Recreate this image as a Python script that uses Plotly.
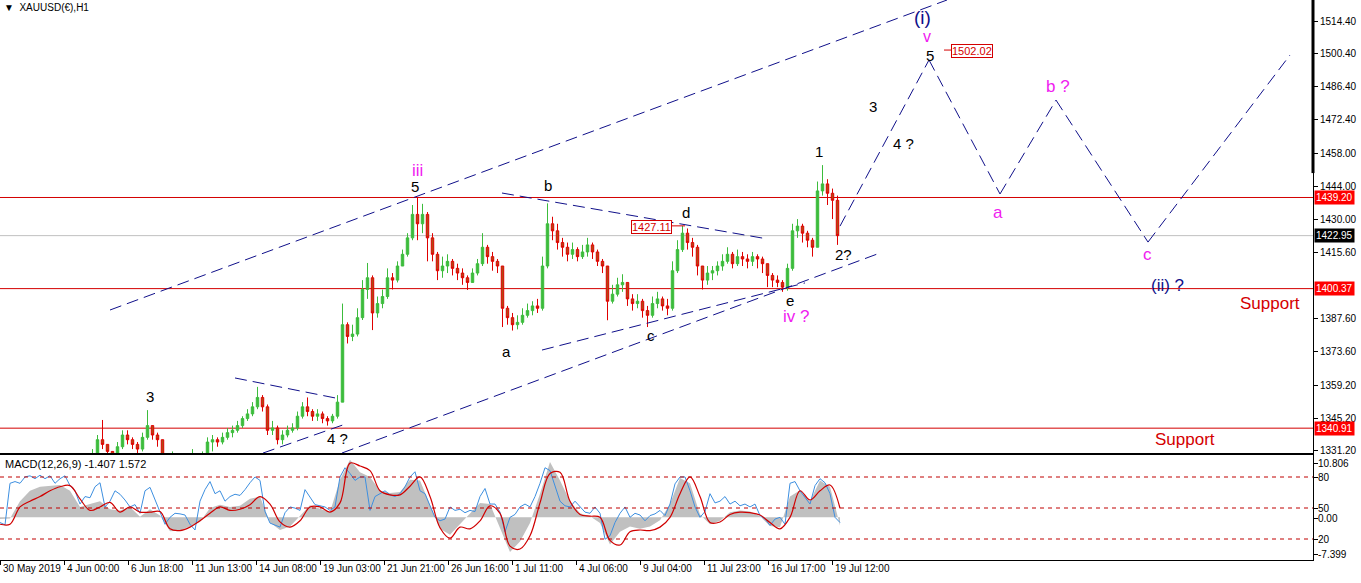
import plotly.graph_objects as go

# ---------------- DATA ----------------
# H1 candles, one entry per 5 bars
closes = [1312, 1314, 1316, 1318, 1319, 1321, 1322, 1320, 1321, 1323, 1324, 1322, 1323, 1325, 1326, 1325, 1327, 1328, 1330,
          1336, 1334, 1331, 1329, 1333, 1338, 1336, 1334, 1332, 1337, 1342, 1338, 1336, 1328,
          1327, 1329, 1328, 1326, 1328, 1330, 1327, 1329,
          1335, 1336, 1335, 1337, 1339, 1340, 1342, 1345, 1347, 1350, 1354, 1350, 1340, 1341, 1336, 1338, 1340, 1341,
          1346, 1350, 1348, 1346, 1347, 1345, 1344, 1346, 1352, 1385, 1380, 1381, 1388, 1400, 1405, 1390, 1394, 1397,
          1405, 1404, 1410, 1415, 1422, 1432, 1428, 1432, 1422, 1415, 1408, 1410, 1412, 1409, 1407, 1405, 1403, 1407,
          1411, 1418, 1414, 1412, 1410,
          1392, 1388, 1385, 1386, 1389, 1391, 1393, 1392, 1410, 1428, 1425, 1420, 1418, 1415, 1417, 1414, 1416, 1419,
          1416, 1412, 1410, 1395, 1398, 1402, 1403, 1396, 1394, 1395, 1391, 1389, 1394, 1396, 1393, 1392, 1408, 1417,
          1424, 1420, 1418, 1410, 1404, 1407, 1408, 1410, 1412, 1415, 1411, 1414, 1413, 1412, 1414, 1413, 1411, 1406,
          1404, 1403, 1401, 1409, 1425, 1427, 1424, 1421, 1418, 1442, 1445, 1441, 1438, 1422.95]
highs = [1314, 1316, 1318, 1320, 1321, 1323, 1324, 1323, 1323, 1325, 1326, 1325, 1325, 1327, 1328, 1327, 1329, 1330, 1332,
         1338, 1344.4, 1334, 1331, 1335, 1340, 1340, 1337, 1335, 1339, 1348.6, 1342, 1339, 1336,
         1329, 1331, 1330, 1329, 1330, 1332, 1330, 1331,
         1337, 1338, 1337, 1339, 1341, 1342, 1344, 1346, 1349, 1352, 1358.5, 1355, 1351, 1344, 1342, 1340, 1342, 1343,
         1348, 1352, 1354, 1349, 1349, 1348, 1346, 1347, 1355, 1394, 1386, 1385, 1392, 1404, 1411.3, 1406, 1397, 1400,
         1409, 1407, 1412, 1417, 1424, 1436, 1439.4, 1436.5, 1433, 1424, 1416, 1414, 1415, 1413, 1411, 1409, 1406, 1409,
         1413, 1424, 1419, 1416, 1413,
         1397, 1393, 1390, 1389, 1392, 1394, 1395, 1396, 1414, 1436.7, 1431, 1428, 1422, 1420, 1420, 1418, 1419, 1422,
         1420, 1417, 1413, 1410, 1402, 1405, 1406.5, 1403, 1398, 1398, 1396, 1393, 1397, 1399, 1397, 1396, 1412, 1421,
         1427.1, 1426, 1422, 1419, 1410, 1410, 1410, 1412, 1415, 1418, 1416, 1417, 1416, 1415, 1416, 1415, 1414, 1411,
         1407, 1406, 1404, 1411, 1428, 1430, 1428, 1425, 1422, 1446, 1453, 1447, 1443, 1440]
lows = [1310, 1312, 1314, 1316, 1317, 1319, 1320, 1318, 1319, 1321, 1322, 1320, 1321, 1323, 1324, 1323, 1325, 1326, 1328,
        1330, 1332, 1329, 1327, 1329, 1332, 1334, 1332, 1330, 1331, 1336, 1336, 1333, 1326,
        1325, 1327, 1326, 1324, 1326, 1328, 1325, 1327,
        1329, 1331, 1333, 1334, 1336, 1337, 1339, 1341, 1344, 1346, 1349, 1348, 1338, 1338, 1334, 1334, 1337, 1339,
        1340, 1345, 1346, 1344, 1344, 1343, 1342, 1343, 1345, 1352, 1377, 1378, 1380, 1387, 1396, 1382.7, 1388, 1392,
        1396, 1400, 1403, 1410, 1414, 1421, 1421, 1424, 1412, 1412, 1404, 1405, 1407, 1406, 1404, 1402, 1399.8, 1403,
        1406, 1410, 1411, 1408, 1407,
        1384, 1385, 1382.5, 1383, 1385, 1388, 1389, 1390, 1391, 1409, 1421, 1417, 1414, 1412, 1413, 1412, 1413, 1414,
        1413, 1410, 1407, 1386.9, 1394, 1397, 1399, 1393, 1391, 1392, 1388, 1384, 1388, 1392, 1391, 1389, 1391, 1407,
        1416, 1417, 1414, 1406, 1400, 1402, 1404, 1406, 1408, 1411, 1409, 1410, 1410, 1409, 1410, 1409, 1407, 1401,
        1401, 1401, 1399, 1399.5, 1408, 1422, 1420, 1418, 1414, 1418, 1440, 1436, 1430, 1419]

# MACD window (one value per 10 bars for histogram/signal, per 5 bars for the blue line)
macd_hist = [-0.3, -0.2, 2.8, 4.6, 5.3, 5.5, 5.6, 4.6, 1.8, 2.3, 2.8, 1.4, 1.2, 1.8, 0.1, 1.4, 0.3, -2.4, -2.3, -1.6,
             -0.8, 1.6, 2.2, 1.8, 2.0, 3.2, 3.6, -0.9, -2.2, -1.6, 0.3, 2.1, 1.5, 0.9, 6.5, 10.0, 7.8, 7.0, 4.6, 4.2,
             4.4, 6.5, 6.4, 2.3, -2.0, -3.0, -1.2, 0.6, 2.5, 2.3, -2.0, -6.0, -4.2, -1.0, 4.1, 9.6, 6.4, 2.8, 0.7, 0.2,
             -1.0, -4.7, -2.5, -1.6, -2.0, -1.6, -0.5, 2.3, 6.8, 5.9, 0.5, -1.2, -0.6, 0.9, 1.2, 1.0, 0.2, -1.5, -1.7, 3.6,
             4.7, 2.8, 6.4, 5.3, -1.407]
macd_signal = [-1.2, -1.2, 1.8, 2.8, 3.6, 4.6, 5.3, 5.5, 3.2, 1.2, 1.8, 2.6, 0.9, 1.8, 0.9, 0.9, 1.0, -2.0, -2.3, -1.7,
               -0.6, 0.7, 1.8, 1.2, 1.4, 2.2, 3.6, 2.3, -0.8, -1.7, -0.6, 1.8, 1.8, 0.9, 2.5, 9.4, 8.9, 8.1, 4.6, 3.9,
               3.9, 5.4, 7.0, 3.6, -1.8, -3.6, -1.7, -2.0, -0.6, 2.0, 0.7, -5.0, -5.5, -3.2, 2.5, 7.6, 7.8, 2.8, 0.5, 0.2,
               0.0, -4.0, -4.8, -2.5, -2.2, -2.3, -1.7, 0.0, 4.1, 7.0, 3.6, -0.9, -0.8, 0.5, 0.9, 0.8, 0.4, -0.9, -2.0, 0.0,
               4.6, 3.0, 4.6, 5.6, 1.572]
osc_line = [-0.9, -1.3, 5.9, 6.2, 5.9, 7.0, 7.2, 6.7, 7.3, 6.7, 7.2, 5.9, 6.7, 7.2, 5.5, 4.6, 2.3, 3.6, 3.4, 5.3,
            6.0, 1.8, 2.8, 4.6, 4.0, 3.0, 1.8, 2.2, 0.7, 4.6, 5.2, 3.0, 1.0, -1.2, 0.0, 0.7, 0.6, 0.4, -1.2, -2.2,
            2.8, 4.8, 6.2, 4.1, 4.6, 2.8, 3.6, 4.0, 3.8, 4.8, 6.0, 7.0, 6.4, 1.0, -1.0, -1.3, -1.7, 0.8, 1.8, 1.6,
            1.2, 4.8, 3.6, 2.2, 2.0, 1.8, 1.2, 1.8, 7.0, 8.6, 7.6, 6.4, 7.0, 7.0, 1.2, 3.6, 4.1, 4.6, 3.9, 3.6,
            4.1, 5.3, 7.0, 7.9, 4.6, 4.1, 2.0, 0.0, -0.6, -0.3, 1.8, 1.2, 1.4, 0.8, 1.2, 1.0, 3.6, 5.0, 2.3, 2.3,
            0.9, -2.5, 0.0, 0.5, 1.8, 2.3, 1.8, 3.6, 5.9, 8.6, 8.1, 5.3, 2.8, 2.0, 1.8, 2.8, 1.8, 0.9, 0.7, 1.8,
            0.7, -3.8, -3.2, -0.9, 0.7, 1.8, 0.0, 0.7, 0.4, -0.6, 0.3, 0.6, 1.2, 0.3, 2.3, 5.8, 7.0, 7.0, 4.6, 1.8,
            0.0, 1.0, 4.1, 2.5, 2.8, 3.6, 2.3, 2.8, 2.0, 2.3, 1.8, 2.3, 0.3, -0.3, -1.4, -0.3, 0.0, -1.2, 5.9, 6.2,
            4.6, 3.5, 2.3, 5.5, 6.7, 6.0, 4.1, 0.0, -0.9]

price_ticks = [1514.40, 1500.40, 1486.40, 1472.40, 1458.00, 1444.00, 1430.00, 1415.60,
               1387.60, 1373.60, 1359.20, 1345.20, 1331.20]
date_labels = ["30 May 2019", "4 Jun 00:00", "6 Jun 18:00", "11 Jun 13:00", "14 Jun 08:00", "19 Jun 03:00",
               "21 Jun 21:00", "26 Jun 16:00", "1 Jul 11:00", "4 Jul 06:00", "9 Jul 04:00", "11 Jul 23:00",
               "16 Jul 17:00", "19 Jul 12:00"]
support_levels = [1439.20, 1400.37, 1340.91]
last_price = 1422.95
macd_scale = [-7.399, 10.806]

# analyst drawings: (bar, price) pairs
channel_upper = [(110, 1391.26), (947, 1523.35)]
channel_lower = [(342, 1330.33), (880, 1415.55)]
tri_upper = [(502, 1441.1), (768, 1421.5)]
tri_lower = [(542, 1374.2), (805, 1402.8)]
wedge_upper = [(235, 1362.3), (335, 1353.8)]
wedge_lower = [(263, 1330.3), (343, 1342.3)]
projection = [(840, 1427.0), (929, 1497.8), (1000, 1440.7), (1056, 1480.7), (1148, 1420.2), (1290, 1499.9)]

# ---------------- FIGURE ----------------
FONT = "Liberation Sans"
NAVY = "#10108a"
MAG = "#f020f0"
RED = "#d40000"
X_MAX = 1313
BAR = 5
H_PLOT = 560

n = len(closes)
cx = [BAR * i + BAR / 2 for i in range(n)]
opens = [closes[0]] + closes[:-1]
hi = [max(h, o, c) for h, o, c in zip(highs, opens, closes)]
lo = [min(l, o, c) for l, o, c in zip(lows, opens, closes)]

fig = go.Figure()
fig.add_trace(go.Candlestick(
    x=cx, open=opens, high=hi, low=lo, close=closes, xaxis="x", yaxis="y",
    increasing=dict(line=dict(color="#3cbc3c", width=1), fillcolor="#3cbc3c"),
    decreasing=dict(line=dict(color="#e00000", width=1), fillcolor="#b04a10"),
    whiskerwidth=0, hoverinfo="skip", showlegend=False))

mx = [10 * i for i in range(len(macd_hist))]
bx = [5 * i for i in range(len(osc_line))]
fig.add_trace(go.Scatter(x=mx, y=macd_hist, xaxis="x2", yaxis="y2", mode="lines", fill="tozeroy",
                         fillcolor="#c0c0c0", line=dict(width=0, color="#c0c0c0"), showlegend=False,
                         hoverinfo="skip"))
fig.add_trace(go.Scatter(x=bx, y=osc_line, xaxis="x2", yaxis="y2", mode="lines",
                         line=dict(color="#3d8fe0", width=1), showlegend=False, hoverinfo="skip"))
fig.add_trace(go.Scatter(x=mx, y=macd_signal, xaxis="x2", yaxis="y2", mode="lines",
                         line=dict(color="#d00000", width=1.2, shape="spline"), showlegend=False,
                         hoverinfo="skip"))

shapes = []
for lvl in support_levels:
    shapes.append(dict(type="line", xref="x", yref="y", x0=0, x1=X_MAX, y0=lvl, y1=lvl,
                       line=dict(color=RED, width=1), layer="below"))
shapes.append(dict(type="line", xref="x", yref="y", x0=0, x1=X_MAX, y0=last_price, y1=last_price,
                   line=dict(color="#c0c0c0", width=1), layer="below"))

def dashed(pts):
    for (x0, y0), (x1, y1) in zip(pts[:-1], pts[1:]):
        shapes.append(dict(type="line", xref="x", yref="y", x0=x0, y0=y0, x1=x1, y1=y1,
                           line=dict(color=NAVY, width=1, dash="12px,6px")))

for pts in [channel_upper, channel_lower, tri_upper, tri_lower, wedge_upper, wedge_lower, projection]:
    dashed(pts)

# MACD level lines (80 / 50 / 20 levels)
macd_span = macd_scale[1] - macd_scale[0]
def macd_at(px):
    return macd_scale[1] - (px - 455) * macd_span / 105.0

lvl_vals = [macd_at(477), macd_at(508), macd_at(539)]
for v in lvl_vals:
    shapes.append(dict(type="line", xref="x2", yref="y2", x0=0, x1=X_MAX, y0=v, y1=v,
                       line=dict(color="#c00000", width=1, dash="4px,4px")))

# thick scale marker on right axis
shapes.append(dict(type="line", xref="paper", yref="y", x0=1, x1=1, y0=1449.6, y1=1523.35,
                   line=dict(color="black", width=3)))
# price-label connectors
shapes.append(dict(type="line", xref="x", yref="y", x0=672, x1=685, y0=1427.11, y1=1427.11,
                   line=dict(color=RED, width=1)))
shapes.append(dict(type="line", xref="x", yref="y", x0=944, x1=952, y0=1502.02, y1=1502.02,
                   line=dict(color=RED, width=1)))

ann = []
def txt(t, x, y, color, size, **kw):
    ann.append(dict(text=t, x=x, y=y, xref="x", yref="y", showarrow=False,
                    font=dict(family=FONT, color=color, size=size), **kw))

txt("(i)", 922, 1515.7, NAVY, 19)
txt("v", 927, 1507.6, MAG, 16)
txt("5", 930, 1499.9, "black", 15)
txt("3", 873, 1477.8, "black", 15)
txt("4 ?", 903, 1462.0, "black", 15)
txt("1", 819, 1458.6, "black", 15)
txt("2?", 843, 1415.1, "black", 15)
txt("b ?", 1058, 1486.3, MAG, 17)
txt("a", 998, 1432.6, MAG, 17)
txt("c", 1147, 1415.1, MAG, 17)
txt("(ii) ?", 1167, 1401.9, NAVY, 17)
txt("Support", 1270, 1394.2, RED, 17)
txt("Support", 1185, 1335.9, RED, 17)
txt("iii", 417, 1450.9, MAG, 17)
txt("5", 415, 1443.7, "black", 15)
txt("b", 548, 1444.1, "black", 15)
txt("d", 686, 1433.0, "black", 15)
txt("e", 790, 1395.5, "black", 15)
txt("iv ?", 796, 1388.3, MAG, 17)
txt("a", 506, 1373.4, "black", 15)
txt("c", 651, 1380.2, "black", 15)
txt("3", 150, 1354.6, "black", 15)
txt("4 ?", 337, 1336.7, "black", 15)
txt("1427.11", 651, 1426.6, RED, 11, bgcolor="white", bordercolor=RED, borderwidth=1, borderpad=0)
txt("1502.02", 972, 1501.6, RED, 11, bgcolor="white", bordercolor=RED, borderwidth=1, borderpad=0)

# boxed price tags on the right scale
for val, bg in [(support_levels[0], "#ff0000"), (last_price, "#000000"),
                (support_levels[1], "#ff0000"), (support_levels[2], "#ff0000")]:
    ann.append(dict(text="%.2f" % val, x=1, y=val, xref="paper", yref="y", xanchor="left", xshift=1,
                    showarrow=False, bgcolor=bg, borderpad=1,
                    font=dict(family=FONT, color="white", size=10)))

# MACD scale labels
for t, px in [("10.806", 463), ("80", 477), ("50", 508), ("0.00", 518), ("20", 539), ("-7.399", 554)]:
    ann.append(dict(text=t, x=1, y=macd_at(px), xref="paper", yref="y2", xanchor="left", xshift=3,
                    showarrow=False, font=dict(family=FONT, color="black", size=10)))

# date labels (left aligned on tick marks)
date_pos = [64 * i for i in range(len(date_labels))]
for t, p in zip(date_labels, date_pos):
    ann.append(dict(text=t, x=p, y=0, xref="x2", yref="paper", xanchor="left", yanchor="top",
                    xshift=1, yshift=-1, showarrow=False, font=dict(family=FONT, color="black", size=10)))

ann.append(dict(text="▼  XAUUSD(€),H1", x=0, y=1, xref="paper", yref="paper", xanchor="left", yanchor="top",
                xshift=2, yshift=0, showarrow=False, font=dict(family=FONT, color="black", size=10)))
ann.append(dict(text="MACD(12,26,9) -1.407 1.572", x=0, y=macd_at(464), xref="paper", yref="y2",
                xanchor="left", xshift=3, showarrow=False, font=dict(family=FONT, color="black", size=11)))

main_bottom = (H_PLOT - 453) / H_PLOT
macd_top = (H_PLOT - 455) / H_PLOT

fig.update_layout(
    width=1361, height=583, margin=dict(l=0, r=48, t=0, b=23),
    paper_bgcolor="white", plot_bgcolor="white", showlegend=False,
    font=dict(family=FONT, size=10, color="black"),
    shapes=shapes, annotations=ann,
    xaxis=dict(domain=[0, 1], range=[0, X_MAX], anchor="y", showticklabels=False, showgrid=False,
               zeroline=False, rangeslider=dict(visible=False), showline=True, linecolor="black",
               linewidth=1, ticks=""),
    yaxis=dict(domain=[main_bottom, 1], range=[1330.33, 1523.35], side="right", anchor="x",
               tickvals=price_ticks, ticktext=["%.2f" % v for v in price_ticks], ticks="outside",
               ticklen=4, tickcolor="black", showline=True, linecolor="black", showgrid=False,
               zeroline=False, tickfont=dict(family=FONT, size=10, color="black")),
    xaxis2=dict(domain=[0, 1], range=[0, X_MAX], anchor="y2", showgrid=False, zeroline=False,
                showline=True, mirror=True, linecolor="black", linewidth=1, ticks="outside", ticklen=4,
                tickcolor="black", tickvals=date_pos, showticklabels=False),
    yaxis2=dict(domain=[0, macd_top], range=[macd_scale[0], macd_scale[1]], side="right", anchor="x2",
                showgrid=False, zeroline=False, showline=True, mirror=True, linecolor="black",
                ticks="outside", ticklen=4, tickcolor="black",
                tickvals=[macd_at(px) for px in [463, 477, 508, 518, 539, 554]], showticklabels=False),
)

fig.write_html("out.html", config={"displayModeBar": False},
               post_script="document.body.style.margin='0px';document.body.style.overflow='hidden';")
